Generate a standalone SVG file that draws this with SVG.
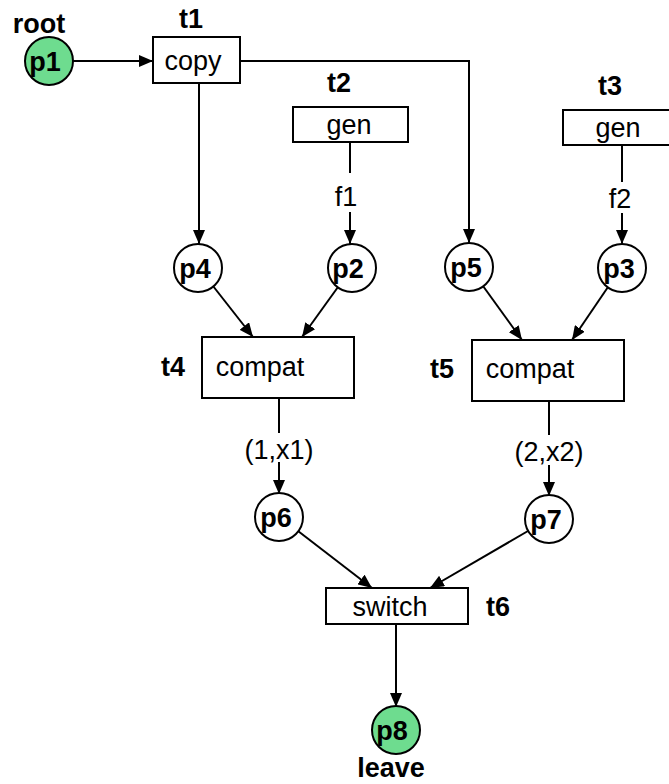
<svg xmlns="http://www.w3.org/2000/svg" width="669" height="784" viewBox="0 0 669 784">
<style>
.place{fill:#fff;stroke:#000;stroke-width:2}
.start{fill:#6edc8f;stroke:#000;stroke-width:2}
.trans{fill:#fff;stroke:#000;stroke-width:2}
.lbl{font-family:"Liberation Sans",Arial,sans-serif;font-size:27px;font-weight:bold;text-anchor:middle;fill:#000}
.txt{font-family:"Liberation Sans",Arial,sans-serif;font-size:27px;text-anchor:middle;fill:#000}
.arc{fill:none;stroke:#000;stroke-width:2}
</style>
<defs>
<marker id="ah" markerUnits="userSpaceOnUse" markerWidth="14" markerHeight="12" refX="14" refY="6" orient="auto">
<path d="M0,0 L14,6 L0,12 z" fill="#000"/>
</marker>
</defs>
<rect width="669" height="784" fill="#fff"/>
<g id="connectors">
<line class="arc" x1="73" y1="61" x2="153" y2="61" marker-end="url(#ah)"/>
<line class="arc" x1="199" y1="83" x2="199" y2="244" marker-end="url(#ah)"/>
<polyline class="arc" points="240,61 469,61 469,243" marker-end="url(#ah)"/>
<line class="arc" x1="350" y1="142" x2="350" y2="173"/>
<line class="arc" x1="350" y1="212" x2="350" y2="244" marker-end="url(#ah)"/>
<text class="txt" x="346" y="206">f1</text>
<line class="arc" x1="622" y1="146" x2="622" y2="182"/>
<line class="arc" x1="622" y1="213" x2="622" y2="244" marker-end="url(#ah)"/>
<text class="txt" x="620" y="208">f2</text>
<line class="arc" x1="213" y1="286" x2="253" y2="337" marker-end="url(#ah)"/>
<line class="arc" x1="338" y1="287" x2="302" y2="337" marker-end="url(#ah)"/>
<line class="arc" x1="483" y1="286" x2="522" y2="340" marker-end="url(#ah)"/>
<line class="arc" x1="608" y1="287" x2="572" y2="340" marker-end="url(#ah)"/>
<line class="arc" x1="279" y1="398" x2="279" y2="433"/>
<line class="arc" x1="279" y1="462" x2="279" y2="494" marker-end="url(#ah)"/>
<text class="txt" x="279" y="459">(1,x1)</text>
<line class="arc" x1="549" y1="401" x2="549" y2="435"/>
<line class="arc" x1="549" y1="465" x2="549" y2="496" marker-end="url(#ah)"/>
<text class="txt" x="549" y="461">(2,x2)</text>
<line class="arc" x1="298" y1="531" x2="372" y2="588" marker-end="url(#ah)"/>
<line class="arc" x1="528" y1="531" x2="430" y2="588" marker-end="url(#ah)"/>
<line class="arc" x1="396" y1="624" x2="396" y2="707" marker-end="url(#ah)"/>
</g>
<g id="p1">
<circle class="start" cx="49" cy="61" r="24"/>
<text class="lbl" x="45" y="71">p1</text>
<text class="lbl" x="39" y="33">root</text>
</g>
<g id="t1">
<rect class="trans" x="153" y="37" width="87" height="46"/>
<text class="txt" x="193" y="70">copy</text>
<text class="lbl" x="191" y="28">t1</text>
</g>
<g id="t2">
<rect class="trans" x="293" y="107" width="115" height="35"/>
<text class="txt" x="349" y="134">gen</text>
<text class="lbl" x="339" y="92">t2</text>
</g>
<g id="t3">
<rect class="trans" x="563" y="110" width="110" height="35"/>
<text class="txt" x="618" y="137">gen</text>
<text class="lbl" x="610" y="95">t3</text>
</g>
<g id="p4">
<circle class="place" cx="198" cy="268" r="24"/>
<text class="lbl" x="195" y="278">p4</text>
</g>
<g id="p2">
<circle class="place" cx="352" cy="268" r="24"/>
<text class="lbl" x="348" y="278">p2</text>
</g>
<g id="p5">
<circle class="place" cx="469" cy="267" r="24"/>
<text class="lbl" x="466" y="277">p5</text>
</g>
<g id="p3">
<circle class="place" cx="622" cy="268" r="24"/>
<text class="lbl" x="619" y="278">p3</text>
</g>
<g id="t4">
<rect class="trans" x="202" y="337" width="152" height="61"/>
<text class="txt" x="260" y="376">compat</text>
<text class="lbl" x="173" y="376">t4</text>
</g>
<g id="t5">
<rect class="trans" x="472" y="340" width="152" height="61"/>
<text class="txt" x="530" y="378">compat</text>
<text class="lbl" x="442" y="378">t5</text>
</g>
<g id="p6">
<circle class="place" cx="279" cy="517" r="24"/>
<text class="lbl" x="276" y="527">p6</text>
</g>
<g id="p7">
<circle class="place" cx="549" cy="519" r="24"/>
<text class="lbl" x="546" y="529">p7</text>
</g>
<g id="t6">
<rect class="trans" x="326" y="588" width="142" height="36"/>
<text class="txt" x="390" y="616">switch</text>
<text class="lbl" x="498" y="616">t6</text>
</g>
<g id="p8">
<circle class="start" cx="396" cy="730" r="24"/>
<text class="lbl" x="392" y="740">p8</text>
<text class="lbl" x="391" y="777">leave</text>
</g>
</svg>
